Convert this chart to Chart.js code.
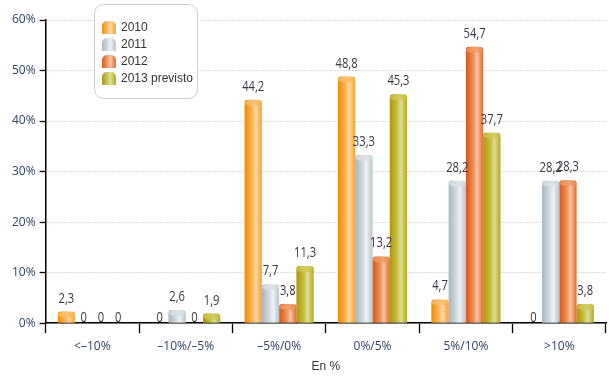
<!DOCTYPE html>
<html>
<head>
<meta charset="utf-8">
<script src="https://cdn.jsdelivr.net/npm/chart.js@4"></script>
<style>
  html, body { margin: 0; padding: 0; background: #fff; }
  #wrap { width: 610px; height: 376px; }
</style>
</head>
<body>
<div id="wrap"><canvas id="chart1"></canvas></div>
<script>
// data
const categories = ['<–10%', '–10%/–5%', '–5%/0%', '0%/5%', '5%/10%', '>10%'];
const seriesNames = ['2010', '2011', '2012', '2013 previsto'];
const v2010 = [2.3, 0, 44.2, 48.8, 4.7, 0];
const v2011 = [0, 2.6, 7.7, 33.3, 28.2, 28.2];
const v2012 = [0, 0, 3.8, 13.2, 54.7, 28.3];
const v2013 = [0, 1.9, 11.3, 45.3, 37.7, 3.8];
const yTicks = [0, 10, 20, 30, 40, 50, 60];

// cylinder shading: left edge, mid, highlight, right edge, cap
const shades = [
  ['#f18c00', '#f9b04c', '#fdd7a4', '#f5a232', '#fcc27a'],
  ['#a8b5be', '#cdd7dd', '#eef2f4', '#b7c3cb', '#dde4e8'],
  ['#d65814', '#eb8a50', '#f7c3a0', '#e06c2c', '#f0a070'],
  ['#ae960c', '#c6bb3a', '#dde094', '#b9a41c', '#d4cc64']
];

const allValues = [v2010, v2011, v2012, v2013];

const cylinderPlugin = {
  id: 'cylinder',
  beforeDatasetsDraw(chart) {
    const ctx = chart.ctx;
    chart.data.datasets.forEach((ds, di) => {
      const s = shades[di];
      chart.getDatasetMeta(di).data.forEach(el => {
        const x0 = el.x - el.width / 2, x1 = el.x + el.width / 2;
        const g = ctx.createLinearGradient(x0, 0, x1, 0);
        g.addColorStop(0, s[0]);
        g.addColorStop(0.4, s[1]);
        g.addColorStop(0.65, s[2]);
        g.addColorStop(1, s[3]);
        el.options = Object.assign({}, el.options, { backgroundColor: g });
      });
    });
  },
  afterDatasetsDraw(chart) {
    const ctx = chart.ctx;
    ctx.save();
    chart.data.datasets.forEach((ds, di) => {
      const s = shades[di];
      chart.getDatasetMeta(di).data.forEach((el, i) => {
        const v = ds.data[i];
        // cap
        if (v > 0) {
          const g = ctx.createLinearGradient(el.x - el.width / 2, 0, el.x + el.width / 2, 0);
          g.addColorStop(0, s[1]);
          g.addColorStop(0.6, s[4]);
          g.addColorStop(1, s[1]);
          ctx.fillStyle = g;
          ctx.beginPath();
          ctx.ellipse(el.x, el.y + 3, el.width / 2, 3, 0, 0, Math.PI * 2);
          ctx.fill();
        }
        // value label, squeezed a bit like the original condensed face
        const txt = String(v).replace('.', ',');
        ctx.save();
        ctx.translate(el.x, v > 0 ? el.y - 9 : el.y - 1);
        ctx.scale(0.8, 1);
        ctx.fillStyle = '#3a3444';
        ctx.font = '14px "Open Sans", "DejaVu Sans", sans-serif';
        ctx.textAlign = 'center';
        ctx.textBaseline = 'alphabetic';
        ctx.fillText(txt, 0, 0);
        ctx.restore();
      });
    });
    ctx.restore();
  }
};

const legendBoxPlugin = {
  id: 'legendBox',
  afterDraw(chart) {
    const ctx = chart.ctx;
    ctx.save();
    const bx = 94.5, by = 4.5, bw = 103, bh = 94;
    ctx.beginPath();
    ctx.roundRect(bx, by, bw, bh, 9);
    ctx.fillStyle = '#fff';
    ctx.fill();
    ctx.strokeStyle = '#c6cfd7';
    ctx.lineWidth = 1;
    ctx.stroke();
    ctx.font = '12px "Liberation Sans", Arial, sans-serif';
    ctx.textBaseline = 'middle';
    ctx.textAlign = 'left';
    seriesNames.forEach((name, i) => {
      const yc = 27 + i * 17;
      const s = shades[i];
      const g = ctx.createLinearGradient(102, 0, 116, 0);
      g.addColorStop(0, s[0]);
      g.addColorStop(0.6, s[2]);
      g.addColorStop(1, s[3]);
      ctx.fillStyle = g;
      ctx.beginPath();
      ctx.roundRect(102, yc - 6, 14, 13, [5, 5, 1, 1]);
      ctx.fill();
      ctx.fillStyle = '#333';
      ctx.fillText(name, 121, yc + 1);
    });
    ctx.restore();
  }
};

const datasets = allValues.map((vals, i) => ({
  label: seriesNames[i],
  data: vals,
  backgroundColor: shades[i][1],
  borderWidth: 0,
  borderSkipped: 'bottom',
  borderRadius: { topLeft: 3, topRight: 3, bottomLeft: 0, bottomRight: 0 },
  categoryPercentage: 0.74,
  barPercentage: 1.0
}));

const tickColor = '#2f4466';

const config = {
  type: 'bar',
  data: { labels: categories, datasets },
  options: {
    responsive: true,
    maintainAspectRatio: false,
    animation: false,
    layout: { padding: { left: 8, right: 4, top: 20, bottom: 2 } },
    plugins: {
      legend: { display: false },
      tooltip: { enabled: false }
    },
    scales: {
      x: {
        grid: {
          offset: true,
          drawOnChartArea: false,
          tickLength: 10,
          tickColor: '#000',
          tickWidth: 1.3
        },
        border: { color: '#000', width: 1.5 },
        ticks: {
          color: tickColor,
          font: { size: 12, family: '"Open Sans", "DejaVu Sans", sans-serif' },
          padding: 6
        },
        title: {
          display: true,
          text: 'En %',
          color: '#333',
          font: { size: 12, family: '"Liberation Sans", Arial, sans-serif' },
          padding: { top: 0, bottom: 0 }
        }
      },
      y: {
        min: 0,
        max: 60,
        afterBuildTicks(scale) {
          scale.ticks = yTicks.map(v => ({ value: v }));
        },
        grid: {
          color: '#b4b8bd',
          lineWidth: 1,
          tickLength: 6,
          tickColor: '#000',
          tickWidth: 1.3,
          tickBorderDash: []
        },
        border: { color: '#000', width: 1.5, dash: [1, 2] },
        ticks: {
          color: tickColor,
          font: { size: 12, family: '"Open Sans", "DejaVu Sans", sans-serif' },
          padding: 4,
          callback: v => v + '%'
        }
      }
    }
  },
  plugins: [cylinderPlugin, legendBoxPlugin]
};

const myChart = new Chart(document.getElementById('chart1'), config);
</script>
</body>
</html>
